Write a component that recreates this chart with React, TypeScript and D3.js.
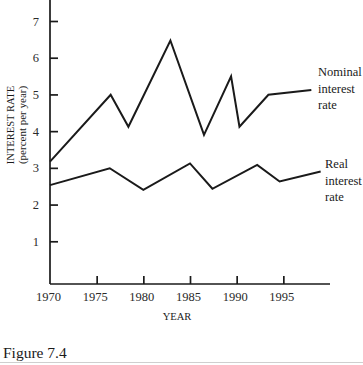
import { useRef, useEffect } from 'react';
import { select, scaleLinear, axisBottom, axisLeft, line } from 'd3';

const yearTicks = [1970, 1975, 1980, 1985, 1990, 1995];
const rateTicks = [1, 2, 3, 4, 5, 6, 7];

const nominalYears = [1970, 1976.5, 1978.4, 1982.9, 1986.5, 1989.4, 1990.3, 1993.4, 1998];
const nominalRates = [3.17, 4.99, 4.12, 6.47, 3.9, 5.49, 4.12, 4.99, 5.12];

const realYears = [1970, 1976.4, 1980, 1985, 1987.4, 1992.2, 1994.6, 1999];
const realRates = [2.53, 2.99, 2.4, 3.12, 2.43, 3.08, 2.63, 2.9];

const nominalLabel = ['Nominal', 'interest', 'rate'];
const realLabel = ['Real', 'interest', 'rate'];

export default function App() {
  const svgRef = useRef(null);

  useEffect(() => {
    const svg = select(svgRef.current);
    svg.selectAll('*').remove();

    const font = '"Liberation Serif", "Times New Roman", serif';
    const ink = '#1a1a1a';

    const x = scaleLinear().domain([1970, 2000]).range([50, 330]);
    const y = scaleLinear().domain([0, 7]).range([278, 21]);
    const axisY = 284;

    // axis lines
    svg.append('line')
      .attr('x1', x(1970)).attr('x2', x(1970))
      .attr('y1', 0).attr('y2', axisY)
      .attr('stroke', ink).attr('stroke-width', 1.7);
    svg.append('line')
      .attr('x1', x(1970)).attr('x2', x(2000))
      .attr('y1', axisY).attr('y2', axisY)
      .attr('stroke', ink).attr('stroke-width', 1.7);

    const yAxis = svg.append('g')
      .attr('transform', `translate(${x(1970)},0)`)
      .call(axisLeft(y).tickValues(rateTicks).tickSize(-8).tickPadding(11).tickFormat(d => String(d)));
    yAxis.select('.domain').remove();

    const xAxis = svg.append('g')
      .attr('transform', `translate(0,${axisY})`)
      .call(axisBottom(x).tickValues(yearTicks).tickSize(-8).tickPadding(8).tickFormat(d => String(d)));
    xAxis.select('.domain').remove();
    xAxis.selectAll('.tick').filter(d => d === 1970).select('line').remove();

    svg.selectAll('.tick line').attr('stroke', ink).attr('stroke-width', 1.7);
    svg.selectAll('.tick text')
      .attr('font-family', font).attr('font-size', 12.5).attr('fill', '#2a2a2a');
    xAxis.selectAll('.tick text').attr('x', -2);

    const drawSeries = (years: number[], rates: number[]) => {
      const gen = line<number>()
        .x((_, i) => x(years[i]))
        .y(d => y(d));
      svg.append('path')
        .attr('d', gen(rates))
        .attr('fill', 'none')
        .attr('stroke', ink)
        .attr('stroke-width', 2);
    };
    drawSeries(nominalYears, nominalRates);
    drawSeries(realYears, realRates);

    const label = (lines: string[], lx: number, ly: number) => {
      svg.append('g').selectAll('text')
        .data(lines)
        .join('text')
        .attr('x', lx)
        .attr('y', (_, i) => ly + i * 16.5)
        .attr('font-family', font)
        .attr('font-size', 12.5)
        .attr('fill', '#1a1a1a')
        .text(d => d);
    };
    label(nominalLabel, 318, 76);
    label(realLabel, 325, 168);

    svg.append('text')
      .attr('x', 177).attr('y', 320)
      .attr('text-anchor', 'middle')
      .attr('font-family', font).attr('font-size', 10.5).attr('fill', '#1a1a1a')
      .text('YEAR');

    svg.append('text')
      .attr('transform', 'translate(14,125) rotate(-90)')
      .attr('text-anchor', 'middle')
      .attr('font-family', font).attr('font-size', 10.5).attr('fill', '#1a1a1a')
      .text('INTEREST RATE');
    svg.append('text')
      .attr('transform', 'translate(26,125) rotate(-90)')
      .attr('text-anchor', 'middle')
      .attr('font-family', font).attr('font-size', 11).attr('fill', '#1a1a1a')
      .text('(percent per year)');

    svg.append('text')
      .attr('x', 3).attr('y', 358)
      .attr('font-family', font).attr('font-size', 15.5).attr('fill', '#1a1a1a')
      .text('Figure 7.4');

    svg.append('line')
      .attr('x1', 0).attr('x2', 363)
      .attr('y1', 362.5).attr('y2', 362.5)
      .attr('stroke', '#cfcfcf').attr('stroke-width', 1);
  }, []);

  return (
    <svg
      ref={svgRef}
      width={363}
      height={365}
      style={{ position: 'absolute', top: 0, left: 0, background: '#fff' }}
    />
  );
}
